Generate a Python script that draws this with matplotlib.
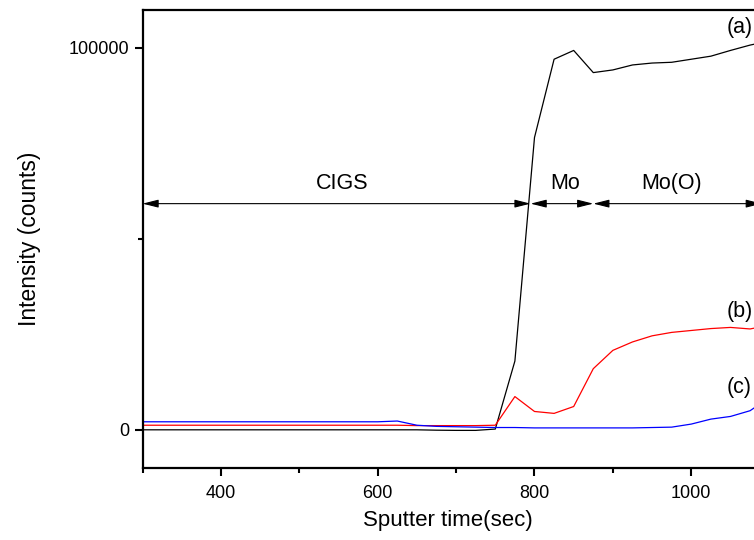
import matplotlib
matplotlib.use("Agg")
import matplotlib.pyplot as plt
import numpy as np

plt.rcParams['font.family'] = ['Liberation Sans', 'DejaVu Sans']

# sputter time (sec), sampled every 25 s
time = np.arange(300, 1101, 25)

# (a) black
curve_a = [0, 0, 0, 0, 0, 0, 0, 0, 0, 0, 0, 0, 0, 0, 0, -100, -150, -150, 200,
           18000, 76500, 97000, 99300, 93500, 94200, 95500, 96000, 96200, 97000,
           97800, 99300, 100700, 101800]
# (b) red
curve_b = [1200, 1200, 1200, 1200, 1200, 1200, 1200, 1200, 1200, 1200, 1200,
           1200, 1200, 1200, 1100, 1100, 1100, 1100, 1200,
           8700, 4800, 4300, 6100, 16000, 20800, 23000, 24600, 25500, 26000,
           26500, 26800, 26400, 27400]
# (c) blue
curve_c = [2100, 2100, 2100, 2100, 2100, 2100, 2100, 2100, 2100, 2100, 2100,
           2100, 2100, 2300, 1200, 900, 800, 700, 600,
           600, 500, 500, 500, 500, 500, 500, 600, 700, 1500,
           2800, 3500, 5000, 8500]

regions = ["CIGS", "Mo", "Mo(O)"]
region_edges = [300, 795, 875, 1090]
region_label_x = [555, 839, 975]

fig = plt.figure(figsize=(7.54, 5.4), dpi=100)
ax = fig.add_axes([0.189, 0.1333, 0.811, 0.849])

ax.plot(time, curve_a, color='black', lw=0.9)
ax.plot(time, curve_b, color='red', lw=0.9)
ax.plot(time, curve_c, color='blue', lw=0.9)

arrow_y = 59200
for name, x0, x1, lx in zip(regions, region_edges[:-1], region_edges[1:], region_label_x):
    ax.annotate('', xy=(x0, arrow_y), xytext=(x1, arrow_y),
                arrowprops=dict(arrowstyle='<|-|>,head_length=0.8,head_width=0.2',
                                color='black', lw=0.8,
                                mutation_scale=12, shrinkA=0, shrinkB=0),
                annotation_clip=False)
    ax.text(lx, 64500, name, ha='center', va='center', fontsize=15.5)

# curve labels, kept just inside the right edge
ax.text(1045, 105300, '(a)', ha='left', va='center', fontsize=15.5)
ax.text(1045, 31000, '(b)', ha='left', va='center', fontsize=15.5)
ax.text(1045, 11000, '(c)', ha='left', va='center', fontsize=15.5)

ax.set_xlim(300, 1080)
ax.set_ylim(-10000, 110000)
ax.set_xticks([400, 600, 800, 1000])
ax.set_xticks([300, 500, 700, 900], minor=True)
ax.set_yticks([0, 100000])
ax.set_yticks([50000], minor=True)
ax.tick_params(which='major', direction='out', length=6, width=1.5, labelsize=13)
ax.tick_params(axis='x', which='major', pad=6)
ax.tick_params(which='minor', direction='out', length=3.5, width=1.5)
ax.spines['right'].set_visible(False)
for s in ['left', 'bottom', 'top']:
    ax.spines[s].set_linewidth(1.6)

ax.set_xlabel('Sputter time(sec)', fontsize=16, labelpad=6)
ax.set_ylabel('Intensity (counts)', fontsize=16.5, labelpad=20)

fig.savefig('out.png', dpi=100)
